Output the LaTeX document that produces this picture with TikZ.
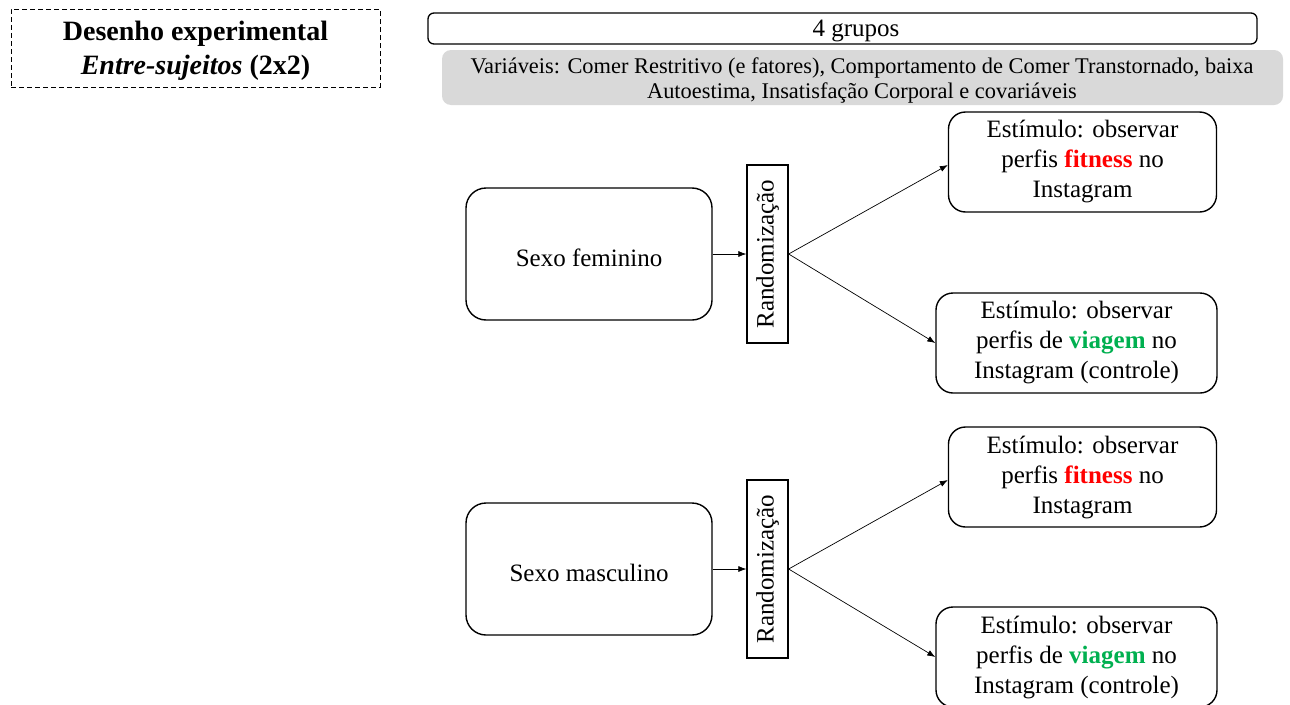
\documentclass[tikz,border=0pt]{standalone}
\usepackage{fontspec}
\setmainfont{Liberation Serif}
\usetikzlibrary{arrows.meta}
\definecolor{fitred}{HTML}{FF0000}
\definecolor{viagreen}{HTML}{00B050}
\definecolor{varsgray}{HTML}{D9D9D9}
\begin{document}
\begin{tikzpicture}[x=1pt,y=-1pt,
  txt/.style={font=\fontsize{25}{30}\selectfont, align=center, inner sep=0pt},
  bigbox/.style={txt, draw, line width=1.4pt, rounded corners=20pt, minimum width=246pt, minimum height=132pt,
                 execute at begin node={\rule{0pt}{24.5pt}}},
  randbox/.style={txt, draw, line width=1.3pt, rotate=90, minimum width=178pt, minimum height=41pt},
  stimbox/.style={txt, draw, line width=1.4pt, rounded corners=17pt, minimum height=100pt,
                 execute at begin node={\rule{0pt}{31pt}}},
  conn/.style={line width=0.7pt, -{Latex[length=8pt,width=6pt]}}
]
\useasboundingbox (0,0) rectangle (1290,704);
\fill[white] (0,0) rectangle (1290,704);

\node[draw, line width=1pt, dash pattern=on 5pt off 3pt, minimum width=369pt, minimum height=78pt, inner sep=0pt] (head) at (195.5,48) {};
\node[align=center, inner sep=0pt, font=\fontsize{28}{34}\selectfont] (headtxt) at (195.5,51)
  {\textbf{Desenho experimental}\\\textbf{\textit{Entre-sujeitos} (2x2)}};

\node[draw, line width=1.3pt, rounded corners=6pt, minimum width=829pt, minimum height=31pt, inner sep=0pt] (grupos) at (842.5,28.5) {};
\node[txt] (grupostxt) at (856,31) {4 grupos};

\node[fill=varsgray, rounded corners=9pt, minimum width=841pt, minimum height=55pt, inner sep=0pt] (vars) at (862.5,77.5) {};
\node[align=center, inner sep=0pt, font=\fontsize{22.4}{25}\selectfont] (varstxt) at (862,80)
  {Variáveis: Comer Restritivo (e fatores), Comportamento de Comer Transtornado, baixa\\Autoestima, Insatisfação Corporal e covariáveis};

\node[bigbox] (fem) at (589,254) {Sexo feminino};
\node[randbox] (rand1) at (767.5,254) {Randomização};
\node[stimbox, minimum width=268pt] (fit1) at (1082.5,162) {Estímulo: observar\\perfis \textbf{\textcolor{fitred}{fitness}} no\\Instagram};
\node[stimbox, minimum width=281pt] (via1) at (1076.5,343) {Estímulo: observar\\perfis de \textbf{\textcolor{viagreen}{viagem}} no\\Instagram (controle)};

\node[bigbox] (masc) at (589,569) {Sexo masculino};
\node[randbox] (rand2) at (767.5,569) {Randomização};
\node[stimbox, minimum width=268pt] (fit2) at (1082.5,477) {Estímulo: observar\\perfis \textbf{\textcolor{fitred}{fitness}} no\\Instagram};
\node[stimbox, minimum width=281pt] (via2) at (1076.5,657) {Estímulo: observar\\perfis de \textbf{\textcolor{viagreen}{viagem}} no\\Instagram (controle)};

\draw[conn] (fem.east) -- (rand1.north);
\draw[conn] (rand1.south) -- ([yshift=-3pt]fit1.west);
\draw[conn] (rand1.south) -- (via1.west);
\draw[conn] (masc.east) -- (rand2.north);
\draw[conn] (rand2.south) -- ([yshift=-3pt]fit2.west);
\draw[conn] (rand2.south) -- (via2.west);
\end{tikzpicture}
\end{document}
